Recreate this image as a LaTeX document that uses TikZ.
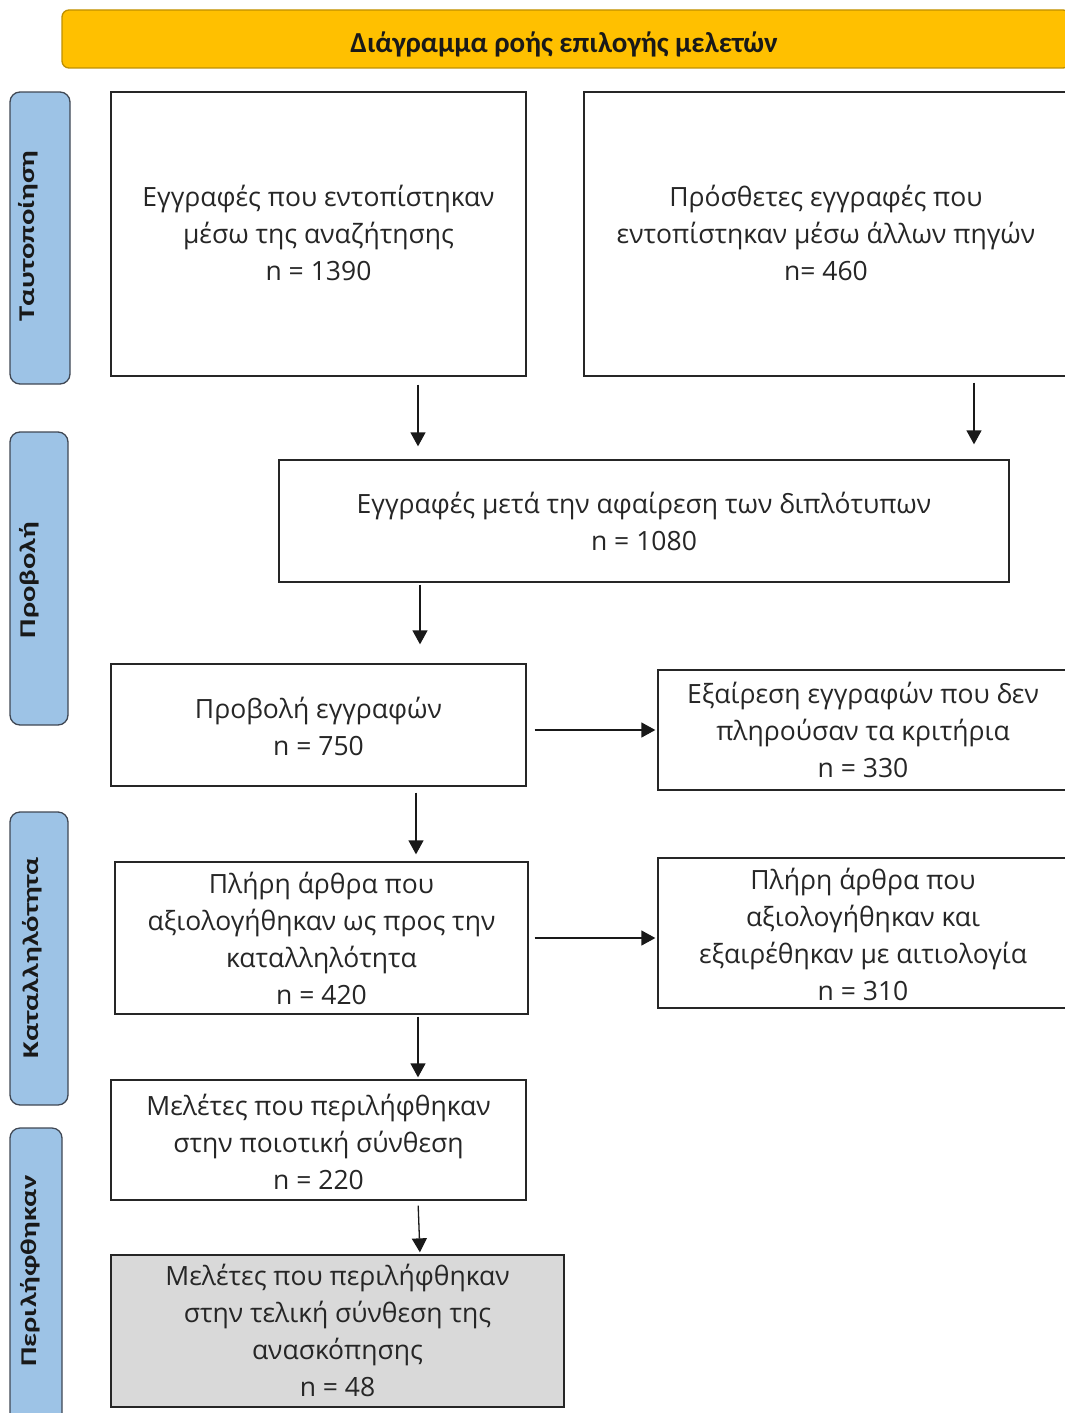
\documentclass[tikz,border=0pt]{standalone}
\usepackage{fontspec}
\setmainfont{Open Sans}
\newfontfamily\calfont{Carlito}
\usetikzlibrary{arrows.meta,calc}
\definecolor{gold}{RGB}{255,192,0}
\definecolor{goldedge}{RGB}{191,144,0}
\definecolor{sideblue}{RGB}{157,195,230}
\definecolor{sideedge}{RGB}{64,72,84}
\definecolor{boxgray}{RGB}{217,217,217}
\definecolor{txt}{RGB}{38,38,38}
\newcommand{\sidelbl}[1]{\scalebox{1.36}[1]{#1}}
\begin{document}
\begin{tikzpicture}[x=1pt,y=-1pt,
  box/.style={draw=black!85, line width=1.3pt, fill=white, inner sep=0pt},
  boxtext/.style={align=center, inner sep=0pt, text=txt, font=\fontsize{26.5}{37}\selectfont},
  side/.style={draw=sideedge, fill=sideblue, line width=1.3pt, rounded corners=10pt, inner sep=0pt},
  sidetext/.style={rotate=90, inner sep=0pt, text=black!90, font=\calfont\bfseries\fontsize{22.5}{26}\selectfont},
  titlebox/.style={draw=goldedge, fill=gold, line width=1.3pt, rounded corners=7pt, inner sep=0pt},
  titletext/.style={inner sep=0pt, text=black!90, font=\calfont\bfseries\fontsize{29}{32}\selectfont},
  arr/.style={line width=1.3pt, draw=black!90, -{Triangle[length=14pt,width=15pt]}}]
\useasboundingbox (0,0) rectangle (1065,1413);
\clip (0,0) rectangle (1065,1413);
% title
\node[titlebox, minimum width=1008pt, minimum height=58pt] (title) at (566,39) {};
\node[titletext] (titlet) at (564,44) {Διάγραμμα ροής επιλογής μελετών};
% side labels
\node[side, minimum width=60pt, minimum height=292pt] (s1) at (40,238) {};
\node[sidetext] (s1t) at (28,236) {\sidelbl{Ταυτοποίηση}};
\node[side, minimum width=58pt, minimum height=293pt] (s2) at (39,578.5) {};
\node[sidetext] (s2t) at (29,580) {\sidelbl{Προβολή}};
\node[side, minimum width=58pt, minimum height=293pt] (s3) at (39,958.5) {};
\node[sidetext] (s3t) at (32,958) {\sidelbl{Καταλληλότητα}};
\node[side, minimum width=52pt, minimum height=300pt] (s4) at (36,1278) {};
\node[sidetext] (s4t) at (30,1271) {\sidelbl{Περιλήφθηκαν}};
% boxes
\node[box, minimum width=415pt, minimum height=284pt] (b1) at (318.5,234) {};
\node[boxtext] (b1t) at (318.5,233) {Εγγραφές που εντοπίστηκαν\\μέσω της αναζήτησης\\n = 1390};
\node[box, minimum width=484pt, minimum height=284pt] (b2) at (826,234) {};
\node[boxtext] (b2t) at (826,233) {Πρόσθετες εγγραφές που\\εντοπίστηκαν μέσω άλλων πηγών\\n= 460};
\node[box, minimum width=730pt, minimum height=122pt] (b3) at (644,521) {};
\node[boxtext] (b3t) at (644,521) {Εγγραφές μετά την αφαίρεση των διπλότυπων\\n = 1080};
\node[box, minimum width=415pt, minimum height=122pt] (b4) at (318.5,725) {};
\node[boxtext] (b4t) at (318.5,726) {Προβολή εγγραφών\\n = 750};
\node[box, minimum width=410pt, minimum height=120pt] (b5) at (863,730) {};
\node[boxtext] (b5t) at (863,729.5) {Εξαίρεση εγγραφών που δεν\\πληρούσαν τα κριτήρια\\n = 330};
\node[box, minimum width=413pt, minimum height=152pt] (b6) at (321.5,938) {};
\node[boxtext] (b6t) at (321.5,938) {Πλήρη άρθρα που\\αξιολογήθηκαν ως προς την\\καταλληλότητα\\n = 420};
\node[box, minimum width=410pt, minimum height=150pt] (b7) at (863,933) {};
\node[boxtext] (b7t) at (863,934) {Πλήρη άρθρα που\\αξιολογήθηκαν και\\εξαιρέθηκαν με αιτιολογία\\n = 310};
\node[box, minimum width=415pt, minimum height=120pt] (b8) at (318.5,1140) {};
\node[boxtext] (b8t) at (318.5,1142) {Μελέτες που περιλήφθηκαν\\στην ποιοτική σύνθεση\\n = 220};
\node[box, fill=boxgray, minimum width=453pt, minimum height=152pt] (b9) at (337.5,1331) {};
\node[boxtext] (b9t) at (337.5,1330) {Μελέτες που περιλήφθηκαν\\στην τελική σύνθεση της\\ανασκόπησης\\n = 48};
% arrow guide coordinates
\coordinate (xa) at (418,0);
\coordinate (xb) at (974,0);
\coordinate (xc) at (420,0);
\coordinate (xd) at (416,0);
\coordinate (ya) at (0,730);
\coordinate (yb) at (0,938);
% arrows
\draw[arr, shorten <=8pt, shorten >=13pt] (b1.south -| xa) -- (b3.north -| xa);
\draw[arr, shorten <=6pt, shorten >=15pt] (b2.south -| xb) -- (b3.north -| xb);
\draw[arr, shorten <=2pt, shorten >=19pt] (b3.south -| xc) -- (b4.north -| xc);
\draw[arr, shorten <=8pt, shorten >=2pt] (b4.east |- ya) -- (b5.west |- ya);
\draw[arr, shorten <=6pt, shorten >=7pt] (b4.south -| xd) -- (b6.north -| xd);
\draw[arr, shorten <=6pt, shorten >=2pt] (b6.east |- yb) -- (b7.west |- yb);
\draw[arr, shorten <=2pt, shorten >=2pt] (b6.south -| xa) -- (b8.north -| xa);
\draw[arr, shorten <=5pt, shorten >=2pt] (b8.south -| xa) -- (b9.north -| xc);
\end{tikzpicture}
\end{document}
